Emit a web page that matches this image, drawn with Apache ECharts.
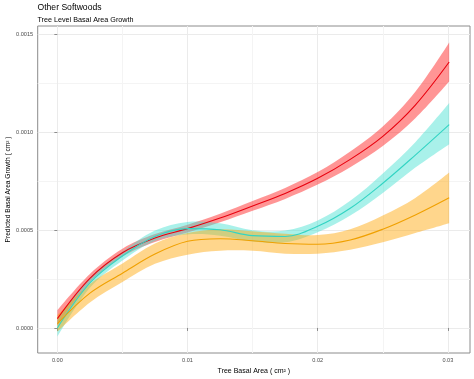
<!DOCTYPE html>
<html>
<head>
<meta charset="utf-8">
<script src="https://cdn.jsdelivr.net/npm/echarts@6/dist/echarts.min.js"></script>
<style>html,body{margin:0;padding:0;background:#fff}#chart{width:474px;height:379px}</style>
</head>
<body>
<div id="chart"></div>
<script>
// ---- data ----
var basalArea = [0, 0.0025, 0.005, 0.0075, 0.01, 0.0125, 0.015, 0.0175, 0.02, 0.0225, 0.025, 0.0275, 0.0301];

var redFit   = [0.000048, 0.000254, 0.000385, 0.000460, 0.000508, 0.000562, 0.000624, 0.000688, 0.000765, 0.000862, 0.000980, 0.001140, 0.001360];
var redLow   = [0.000010, 0.000234, 0.000365, 0.000440, 0.000488, 0.000540, 0.000599, 0.000660, 0.000733, 0.000822, 0.000930, 0.001072, 0.001260];
var redHigh  = [0.000090, 0.000276, 0.000405, 0.000480, 0.000528, 0.000584, 0.000649, 0.000716, 0.000797, 0.000902, 0.001030, 0.001208, 0.001460];

var cyanFit  = [0.000000, 0.000230, 0.000368, 0.000468, 0.000508, 0.000502, 0.000472, 0.000468, 0.000520, 0.000612, 0.000740, 0.000884, 0.001040];
var cyanLow  = [-0.000045, 0.000205, 0.000345, 0.000445, 0.000478, 0.000472, 0.000442, 0.000438, 0.000490, 0.000575, 0.000690, 0.000820, 0.000940];
var cyanHigh = [0.000040, 0.000255, 0.000390, 0.000498, 0.000542, 0.000535, 0.000500, 0.000498, 0.000550, 0.000650, 0.000790, 0.000950, 0.001150];

var orangeFit  = [0.000022, 0.000178, 0.000280, 0.000378, 0.000443, 0.000456, 0.000446, 0.000432, 0.000428, 0.000450, 0.000505, 0.000578, 0.000666];
var orangeLow  = [-0.000020, 0.000130, 0.000235, 0.000328, 0.000375, 0.000395, 0.000395, 0.000380, 0.000380, 0.000400, 0.000438, 0.000485, 0.000535];
var orangeHigh = [0.000065, 0.000225, 0.000330, 0.000432, 0.000485, 0.000505, 0.000495, 0.000482, 0.000475, 0.000505, 0.000575, 0.000665, 0.000795];

var xTicks = [0, 0.01, 0.02, 0.03];
var xTickLabels = ['0.00', '0.01', '0.02', '0.03'];
var xMinor = [0.005, 0.015, 0.025];
var yTicks = [0, 0.0005, 0.001, 0.0015];
var yTickLabels = ['0.0000', '0.0005', '0.0010', '0.0015'];
var yMinor = [0.00025, 0.00075, 0.00125];

// ---- build ----
var SMOOTH = 0.35;
function pairs(ys) { return basalArea.map(function (x, i) { return [x, ys[i]]; }); }
function labelFor(ticks, labels) {
  return function (v) {
    for (var i = 0; i < ticks.length; i++) if (Math.abs(v - ticks[i]) < 1e-9) return labels[i];
    return '';
  };
}
// smooth bezier path through pixel points (same idea as ECharts line smoothing)
function smoothSegs(pts, start) {
  var d = start ? 'M' + pts[0][0] + ' ' + pts[0][1] : 'L' + pts[0][0] + ' ' + pts[0][1];
  var n = pts.length;
  function ctrl(i) {
    var p = pts[i];
    if (i === 0 || i === n - 1) return { a: p, b: p };
    var pr = pts[i - 1], nx = pts[i + 1];
    var vx = nx[0] - pr[0], vy = nx[1] - pr[1];
    var l0 = Math.hypot(p[0] - pr[0], p[1] - pr[1]);
    var l1 = Math.hypot(nx[0] - p[0], nx[1] - p[1]);
    var r = l1 / (l0 + l1);
    return {
      a: [p[0] - vx * SMOOTH * (1 - r), p[1] - vy * SMOOTH * (1 - r)],
      b: [p[0] + vx * SMOOTH * r, p[1] + vy * SMOOTH * r]
    };
  }
  for (var i = 0; i < n - 1; i++) {
    var c0 = ctrl(i).b, c1 = ctrl(i + 1).a, p = pts[i + 1];
    d += 'C' + c0[0] + ' ' + c0[1] + ' ' + c1[0] + ' ' + c1[1] + ' ' + p[0] + ' ' + p[1];
  }
  return d;
}
function bandSeries(lo, hi, color) {
  return {
    type: 'custom', silent: true, clip: true,
    xAxisIndex: 0, yAxisIndex: 0,
    data: [[basalArea[0], lo[0]]],
    encode: { x: 0, y: 1 },
    renderItem: function (params, api) {
      var up = basalArea.map(function (x, i) { return api.coord([x, hi[i]]); });
      var dn = basalArea.map(function (x, i) { return api.coord([x, lo[i]]); }).reverse();
      var d = smoothSegs(up, true) + smoothSegs(dn, false) + 'Z';
      return { type: 'path', shape: { pathData: d }, style: { fill: color, stroke: null } };
    }
  };
}

var groups = [
  { fit: redFit, lo: redLow, hi: redHigh, line: '#E8000E', band: 'rgba(255,20,20,0.45)' },
  { fit: cyanFit, lo: cyanLow, hi: cyanHigh, line: '#33D4C3', band: 'rgba(64,224,208,0.45)' },
  { fit: orangeFit, lo: orangeLow, hi: orangeHigh, line: '#F0A000', band: 'rgba(255,165,0,0.45)' }
];

var series = [];
groups.forEach(function (g) {
  series.push(bandSeries(g.lo, g.hi, g.band));
  series.push({
    type: 'line', data: pairs(g.fit), smooth: SMOOTH, showSymbol: false, silent: true,
    lineStyle: { color: g.line, width: 1.1 }, xAxisIndex: 0, yAxisIndex: 0
  });
});

var FONT = 'Liberation Sans, Arial, sans-serif';
var xMin = -0.00151, xMax = 0.0317, yMin = -0.000128, yMax = 0.001544;

var option = {
  animation: false,
  backgroundColor: '#ffffff',
  title: {
    text: 'Other Softwoods',
    subtext: 'Tree Level Basal Area Growth',
    left: 37.5, top: 3.5, padding: 0,
    itemGap: 4,
    textStyle: { fontFamily: FONT, fontSize: 8.6, fontWeight: 'normal', color: '#000' },
    subtextStyle: { fontFamily: FONT, fontSize: 7.2, color: '#000' }
  },
  grid: {
    left: 37.7, right: 4, top: 26, bottom: 26, outerBoundsMode: 'none', containLabel: false,
    show: true, borderColor: '#8c8c8c', borderWidth: 1, backgroundColor: 'transparent'
  },
  xAxis: [{
    type: 'value', min: xMin, max: xMax,
    name: 'Tree Basal Area ( cm² )', nameLocation: 'middle', nameGap: 14.5, nameMoveOverlap: false,
    nameTextStyle: { fontFamily: FONT, fontSize: 7, color: '#000' },
    axisLine: { show: false },
    axisTick: { show: true, customValues: xTicks, length: 3, lineStyle: { color: '#8c8c8c' } },
    axisLabel: { customValues: xTicks, formatter: labelFor(xTicks, xTickLabels), margin: 4,
                 fontFamily: FONT, fontSize: 5.6, color: '#4d4d4d' },
    splitLine: { show: true, lineStyle: { color: '#ebebeb', width: 1 } }
  }, {
    type: 'value', min: xMin, max: xMax, position: 'bottom',
    axisLine: { show: false }, axisLabel: { show: false },
    axisTick: { show: false, customValues: xMinor },
    splitLine: { show: true, lineStyle: { color: '#f4f4f4', width: 1 } }
  }],
  yAxis: [{
    type: 'value', min: yMin, max: yMax,
    name: 'Predicted Basal Area Growth ( cm² )', nameLocation: 'middle', nameGap: 26, nameRotate: 90,
    nameMoveOverlap: false,
    nameTextStyle: { fontFamily: FONT, fontSize: 6.6, color: '#000' },
    axisLine: { show: false },
    axisTick: { show: true, customValues: yTicks, length: 3, lineStyle: { color: '#8c8c8c' } },
    axisLabel: { customValues: yTicks, formatter: labelFor(yTicks, yTickLabels), margin: 4.5,
                 fontFamily: FONT, fontSize: 5.6, color: '#4d4d4d' },
    splitLine: { show: true, lineStyle: { color: '#ebebeb', width: 1 } }
  }, {
    type: 'value', min: yMin, max: yMax, position: 'left',
    axisLine: { show: false }, axisLabel: { show: false },
    axisTick: { show: false, customValues: yMinor },
    splitLine: { show: true, lineStyle: { color: '#f4f4f4', width: 1 } }
  }],
  series: series
};

var chart = echarts.init(document.getElementById('chart'), null, { renderer: 'canvas' });
chart.setOption(option);
</script>
</body>
</html>
